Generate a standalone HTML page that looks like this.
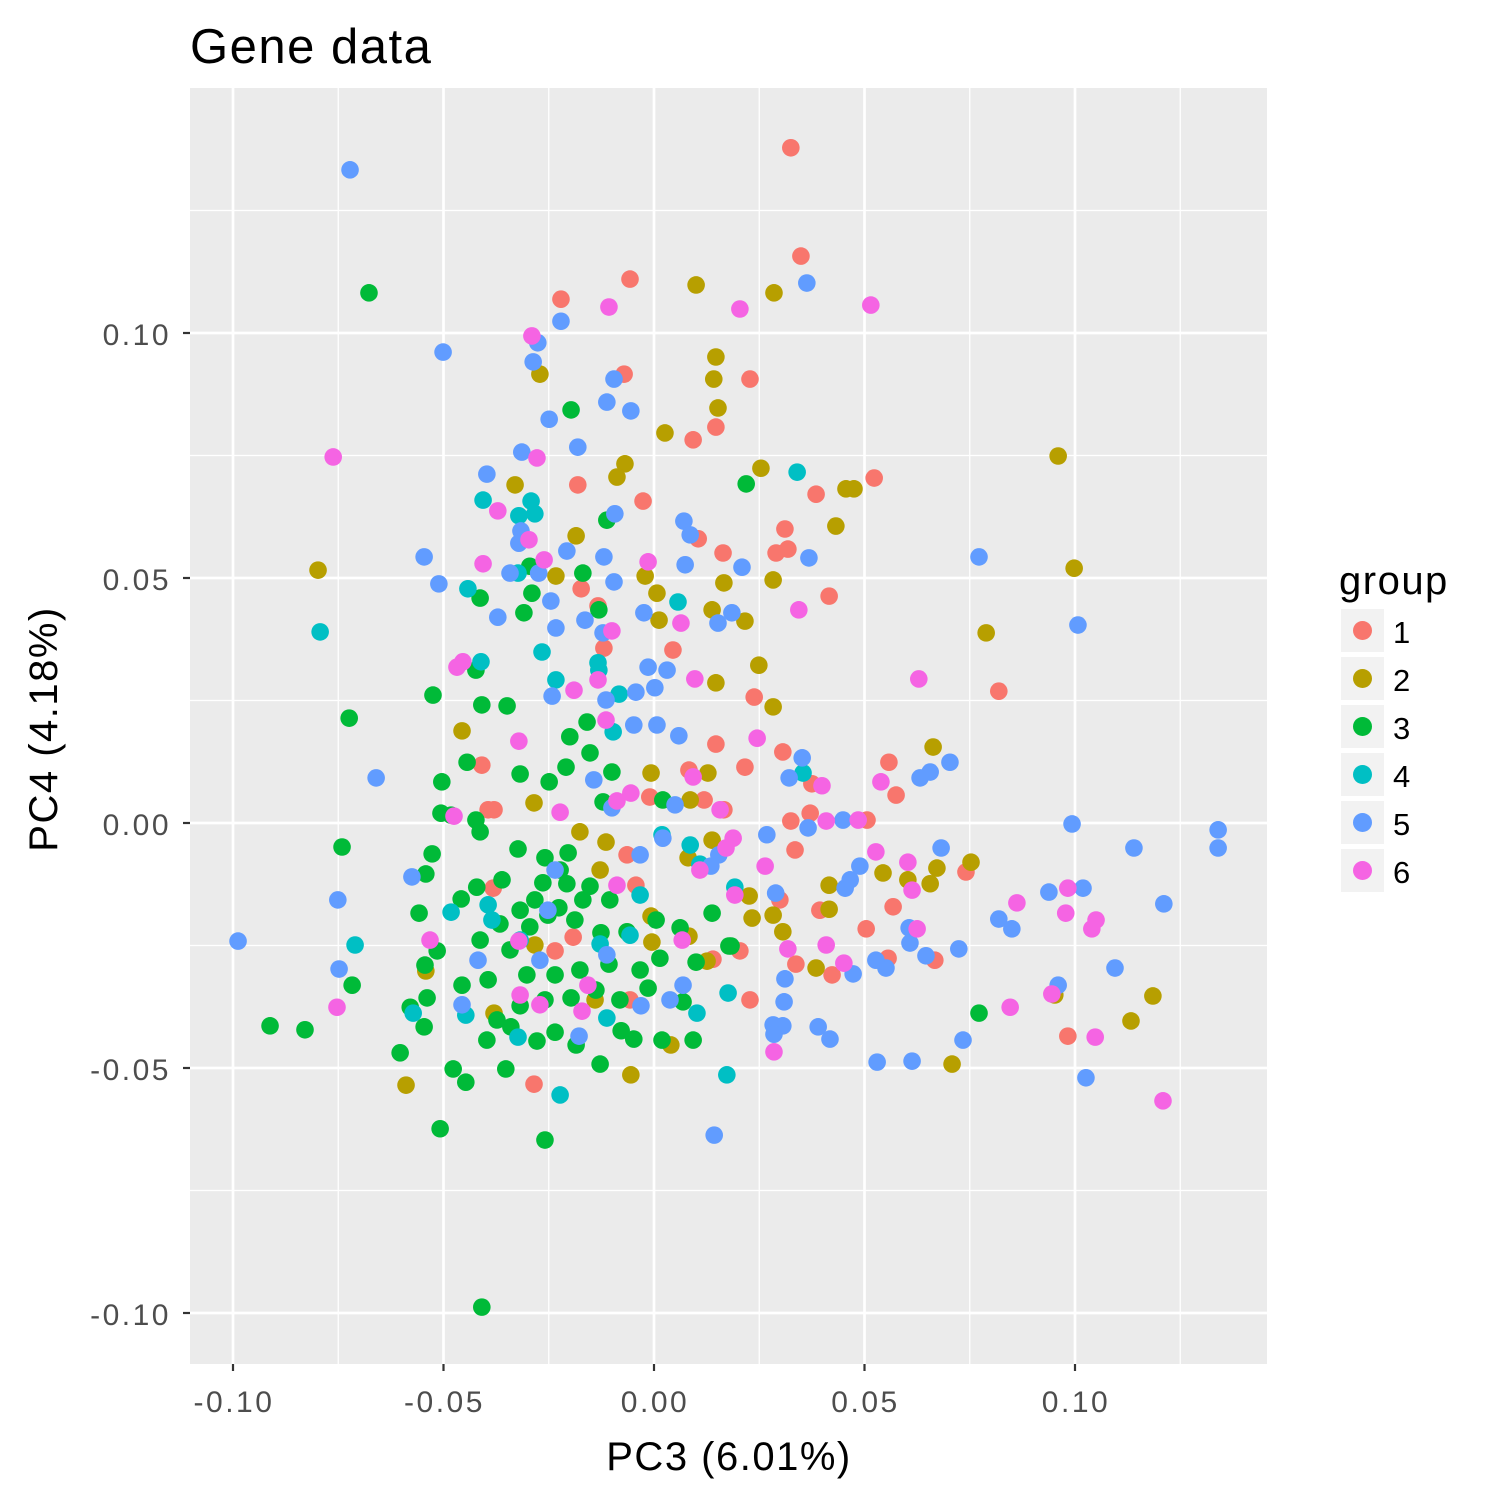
<!DOCTYPE html>
<html><head><meta charset="utf-8"><style>
html,body{margin:0;padding:0;background:#fff}
svg{display:block;font-family:"Liberation Sans",Arial,sans-serif}
</style></head><body>
<svg id="chart" width="1500" height="1500" viewBox="0 0 1500 1500" xmlns="http://www.w3.org/2000/svg">
<rect width="1500" height="1500" fill="#fff"/>
<text x="190" y="63" font-size="49" letter-spacing="1.5" fill="#000">Gene data</text>
<rect x="190" y="88" width="1077" height="1276" fill="#EBEBEB"/>
<g id="grid"></g>
<g id="points"></g>
<g id="axes"></g>
<text x="729" y="1470" font-size="40" letter-spacing="1.5" text-anchor="middle" fill="#000">PC3 (6.01%)</text>
<text transform="translate(57,729) rotate(-90)" font-size="40" letter-spacing="1.5" text-anchor="middle" fill="#000">PC4 (4.18%)</text>
<g id="legend">
<text x="1339" y="594" font-size="40" letter-spacing="1.5" fill="#000">group</text>
</g>
</svg>
<script>
const groups = ["1","2","3","4","5","6"];
const colors = ["#F8766D","#B79F00","#00BA38","#00BFC4","#619CFF","#F564E3"];
const xTicks = [-0.10,-0.05,0.00,0.05,0.10];
const yTicks = [-0.10,-0.05,0.00,0.05,0.10];
const xTickLabels = ["-0.10","-0.05","0.00","0.05","0.10"];
const yTickLabels = ["-0.10","-0.05","0.00","0.05","0.10"];
const g1 = [[.0325,.1378],[.0349,.1157],[-.0057,.111],[-.0221,.1069],[-.0071,.0916],[.0228,.0906],[.0093,.0782],[.0147,.0808],[-.0181,.069],[-.0026,.0657],[.0385,.0671],[.0523,.0704],[.0311,.06],[.0318,.0559],[.029,.0551],[.0105,.058],[.0164,.0551],[.0416,.0463],[-.0173,.0478],[-.0133,.0443],[-.0119,.0357],[.0045,.0353],[.0238,.0257],[-.0409,.0118],[-.0394,.0027],[-.038,.0027],[.0147,.0161],[.0216,.0114],[.0306,.0145],[.0375,.008],[.0558,.0124],[.0575,.0057],[.0819,.0269],[.0325,.0004],[.0335,-.0055],[.0371,.002],[.0506,.0006],[.0568,-.0171],[.0504,-.0216],[.0556,-.0276],[.0667,-.028],[.0741,-.01],[.0983,-.0435],[-.0285,-.0533],[-.0235,-.0261],[.0228,-.0361],[.0423,-.031],[.0337,-.0288],[.014,-.0278],[.0204,-.0261],[-.0043,-.0127],[-.0064,-.0065],[.0166,.0027],[.0119,.0047],[-.001,.0053],[.0083,.0108],[-.0382,-.0133],[-.0192,-.0233],[.0299,-.0157],[.0394,-.0178],[-.0057,-.0361]];
const g2 = [[.01,.1098],[.0285,.1082],[.0147,.0951],[.0142,.0906],[-.0271,.0916],[.0152,.0847],[.0026,.0796],[.0254,.0724],[-.0069,.0733],[-.0088,.0706],[-.033,.069],[.0456,.0682],[.0475,.0682],[.0432,.0606],[.096,.0749],[.0998,.052],[-.0798,.0516],[-.0185,.0586],[-.0233,.0504],[-.0021,.0504],[.0007,.0469],[.0012,.0414],[.0166,.049],[.0138,.0435],[.0216,.0412],[.0283,.0496],[.0789,.0388],[.0249,.0322],[.0147,.0286],[.0283,.0237],[-.0456,.0188],[.0663,.0155],[-.0007,.0102],[.0128,.0102],[-.0285,.0041],[-.0176,-.0018],[-.0114,-.0039],[.0086,.0047],[.0138,-.0035],[.0081,-.0071],[.0544,-.0102],[.0753,-.008],[.0672,-.0092],[.0656,-.0124],[.0603,-.0116],[.0226,-.0149],[.0283,-.0188],[.0306,-.0222],[.0416,-.0176],[.0416,-.0127],[.0233,-.0194],[-.0007,-.019],[-.0005,-.0243],[.0083,-.0231],[.0126,-.0282],[.0385,-.0296],[.1133,-.0404],[.1185,-.0353],[.0952,-.0351],[.0708,-.0492],[.004,-.0453],[-.0055,-.0514],[-.0589,-.0535],[-.0542,-.0302],[-.038,-.0388],[-.0283,-.0249],[-.0128,-.0096],[-.014,-.0361]];
const g3 = [[-.0677,.1082],[-.0197,.0843],[.0219,.0692],[-.0112,.0618],[-.0169,.051],[-.0295,.0524],[-.029,.0469],[-.0413,.0459],[-.0309,.0429],[-.0131,.0435],[-.0423,.0312],[-.0525,.0261],[-.0409,.0241],[-.0349,.0239],[-.0724,.0214],[-.0159,.0206],[-.02,.0176],[-.0152,.0143],[-.0209,.0114],[-.01,.0104],[-.0444,.0124],[-.0504,.0084],[-.0318,.01],[-.0249,.0084],[-.0423,.0006],[-.0413,-.0018],[-.0506,.002],[-.0482,.0016],[-.0741,-.0049],[-.0527,-.0063],[-.0542,-.0104],[-.0558,-.0184],[-.0458,-.0155],[-.0421,-.0131],[-.0361,-.0116],[-.0323,-.0053],[-.0259,-.0071],[-.0204,-.0061],[-.0264,-.0122],[-.0207,-.0124],[-.0152,-.0129],[-.0105,-.0157],[-.0169,-.0157],[-.0226,-.0173],[-.0318,-.0178],[-.0366,-.0206],[-.0295,-.0212],[-.0252,-.0188],[-.0188,-.0198],[-.0126,-.0224],[-.0064,-.0222],[.0005,-.0198],[.0062,-.0214],[.0138,-.0184],[.0178,-.0251],[.01,-.0284],[.0014,-.0276],[-.0033,-.03],[-.0107,-.0288],[-.0176,-.03],[-.0235,-.031],[-.0302,-.031],[-.0394,-.032],[-.0456,-.0331],[-.0515,-.0261],[-.0544,-.029],[-.0539,-.0357],[-.0579,-.0376],[-.0546,-.0416],[-.0603,-.0469],[-.0477,-.0502],[-.0447,-.0529],[-.0508,-.0624],[-.0352,-.0502],[-.034,-.0416],[-.0278,-.0445],[-.0235,-.0427],[-.0185,-.0453],[-.0128,-.0492],[-.0078,-.0424],[-.0048,-.0441],[.0019,-.0443],[.0069,-.0365],[-.0014,-.0337],[-.0081,-.0361],[-.0138,-.0341],[-.0197,-.0357],[-.0259,-.0361],[-.0318,-.0373],[-.0373,-.0402],[-.0397,-.0443],[-.0259,-.0647],[-.0409,-.0988],[-.0912,-.0414],[-.0829,-.0422],[-.0717,-.0331],[.0772,-.0388],[.0183,-.0251],[.0093,-.0443],[.0021,.0047],[-.0121,.0043],[-.0223,-.0096],[-.0283,-.0157],[-.0342,-.0259],[-.0413,-.0239]];
const g4 = [[.034,.0716],[-.0406,.0659],[-.0292,.0657],[-.0283,.0631],[-.0321,.0627],[-.0442,.0478],[-.0323,.051],[-.0266,.0349],[-.0411,.0329],[-.0133,.0327],[-.0131,.0312],[-.0233,.0292],[-.0083,.0263],[.0057,.0451],[-.0097,.0186],[.0354,.0102],[-.0793,.039],[-.071,-.0249],[-.0572,-.0388],[-.0482,-.0182],[-.0394,-.0167],[-.0385,-.0198],[-.0318,-.0239],[-.0128,-.0247],[-.0057,-.0229],[.0019,-.0024],[.0086,-.0045],[.0109,-.0084],[.0192,-.0131],[.0176,-.0347],[.0173,-.0514],[.0102,-.0388],[-.0112,-.0398],[-.0223,-.0555],[-.0323,-.0437],[-.0447,-.0392],[-.0033,-.0147]];
const g5 = [[-.0722,.1333],[.0363,.1102],[-.0221,.1024],[-.0276,.098],[-.0287,.0941],[-.0501,.0961],[-.0095,.0906],[-.0112,.0859],[-.0055,.0841],[-.0249,.0824],[-.0181,.0767],[-.0314,.0757],[-.0397,.0712],[-.0093,.0631],[.0071,.0616],[.0086,.0588],[-.0316,.0596],[-.0321,.0571],[-.0546,.0543],[-.0207,.0555],[-.0119,.0543],[.0074,.0527],[.0209,.0522],[.0368,.0541],[.0772,.0543],[-.0342,.051],[-.0274,.051],[-.0511,.0488],[-.0095,.0492],[-.0245,.0453],[-.0024,.0429],[.0185,.0429],[.0152,.0408],[-.0371,.042],[-.0233,.0398],[-.0164,.0414],[-.0121,.0388],[.1007,.0404],[-.0014,.0318],[.0031,.0312],[.0002,.0276],[-.0242,.0259],[-.0114,.0251],[-.0043,.0267],[-.0048,.02],[.0007,.02],[.0059,.0178],[-.066,.0092],[.0352,.0133],[.0321,.0092],[.0703,.0124],[.0656,.0104],[.0632,.0092],[.0993,-.0002],[.134,-.0014],[.134,-.0051],[.114,-.0051],[.0682,-.0051],[.0268,-.0024],[-.0575,-.011],[-.0751,-.0157],[-.0988,-.0241],[-.0748,-.0298],[.1019,-.0133],[.0938,-.0141],[.0819,-.0196],[.085,-.0216],[.1211,-.0165],[.0606,-.0214],[.0608,-.0245],[.0646,-.0271],[.0724,-.0257],[.0551,-.0296],[.0527,-.028],[.0473,-.0308],[.1095,-.0296],[.096,-.0331],[.0734,-.0443],[.053,-.0488],[.0613,-.0486],[.1026,-.052],[.0143,-.0637],[.0309,-.0365],[.0306,-.0414],[.0283,-.0412],[.0285,-.0431],[.039,-.0416],[.0418,-.0441],[.0311,-.0318],[.0289,-.0143],[.0454,-.0133],[.0466,-.0116],[.0489,-.0088],[.0449,.0006],[.0366,-.001],[.0154,-.0065],[.0135,-.0088],[.005,.0037],[.0021,-.0031],[-.0033,-.0065],[-.01,.0031],[-.0143,.0088],[-.0252,-.0178],[-.0235,-.0096],[-.0271,-.028],[-.0418,-.028],[-.0456,-.0371],[-.0178,-.0435],[-.0031,-.0373],[.0069,-.0331],[.0038,-.0361],[-.0112,-.0269]];
const g6 = [[-.0107,.1053],[.0204,.1049],[.0515,.1057],[-.029,.0994],[-.0762,.0747],[-.0278,.0745],[-.0371,.0637],[-.0297,.0578],[-.0261,.0537],[-.0406,.0529],[-.0014,.0533],[.0344,.0435],[.0064,.0408],[-.01,.0392],[-.0468,.0318],[-.0454,.0329],[-.019,.0271],[-.0133,.0292],[.0097,.0294],[.0629,.0294],[-.0114,.021],[-.0321,.0167],[.0245,.0173],[-.0475,.0014],[.0093,.0094],[-.0223,.0022],[-.0088,.0045],[-.0055,.0061],[.0157,.0027],[.0188,-.0031],[.0264,-.0088],[.0399,.0076],[.0409,.0004],[.0485,.0006],[.0527,-.0059],[.0539,.0084],[.0603,-.008],[.0613,-.0137],[.0983,-.0133],[.0862,-.0163],[.0978,-.0184],[.105,-.0198],[.104,-.0216],[.0625,-.0216],[.0409,-.0249],[.0318,-.0257],[.0451,-.0286],[.0945,-.0349],[.0846,-.0376],[.1048,-.0437],[.1209,-.0567],[.0285,-.0467],[-.0753,-.0376],[-.0532,-.0239],[-.0321,-.0241],[-.0157,-.0331],[-.0171,-.0384],[-.0271,-.0371],[.0067,-.0239],[-.0318,-.0351],[.0192,-.0147],[-.0088,-.0127],[.0171,-.0051],[.0109,-.0096]];
const seriesData = [g1,g2,g3,g4,g5,g6];

const NS="http://www.w3.org/2000/svg";
const PX0=190,PX1=1267,PY0=88,PY1=1364;
function xs(v){return 654+v*4210;}
function ys(v){return 823-v*4900;}
function mk(tag,attrs,parent){const e=document.createElementNS(NS,tag);for(const k in attrs)e.setAttribute(k,attrs[k]);parent.appendChild(e);return e;}
const grid=document.getElementById('grid'),pts=document.getElementById('points'),axes=document.getElementById('axes'),leg=document.getElementById('legend');
for(let i=0;i<xTicks.length-1;i++){const v=(xTicks[i]+xTicks[i+1])/2;const l=mk('line',{x1:xs(v),x2:xs(v),y1:PY0,y2:PY1,stroke:'#fff','stroke-width':1.3},grid);

}
[xTicks[xTicks.length-1]+0.025].forEach(v=>{const l=mk('line',{x1:xs(v),x2:xs(v),y1:PY0,y2:PY1,stroke:'#fff','stroke-width':1.3},grid);

});
const yMinor=[-0.125,-0.075,-0.025,0.025,0.075,0.125];
yMinor.forEach(v=>{const l=mk('line',{x1:PX0,x2:PX1,y1:ys(v),y2:ys(v),stroke:'#fff','stroke-width':1.3},grid);

});
xTicks.forEach((v,i)=>{const l=mk('line',{x1:xs(v),x2:xs(v),y1:PY0,y2:PY1,stroke:'#fff','stroke-width':2.7},grid);


const t=mk('line',{x1:xs(v),x2:xs(v),y1:PY1,y2:PY1+7,stroke:'#333','stroke-width':2.2},axes);


const tx=mk('text',{x:xs(v)+1,y:PY1+48,'font-size':30,'letter-spacing':2.5,'text-anchor':'middle',fill:'#4D4D4D'},axes);tx.textContent=xTickLabels[i];

});
yTicks.forEach((v,i)=>{const l=mk('line',{x1:PX0,x2:PX1,y1:ys(v),y2:ys(v),stroke:'#fff','stroke-width':2.7},grid);


const t=mk('line',{x1:PX0-7,x2:PX0,y1:ys(v),y2:ys(v),stroke:'#333','stroke-width':2.2},axes);


const tx=mk('text',{x:PX0-19,y:ys(v)+12,'font-size':30,'letter-spacing':2.5,'text-anchor':'end',fill:'#4D4D4D'},axes);tx.textContent=yTickLabels[i];

});
seriesData.forEach((arr,gi)=>{arr.forEach(p=>{const c=mk('circle',{cx:xs(p[0]),cy:ys(p[1]),r:8.8,fill:colors[gi]},pts);

});});
groups.forEach((g,i)=>{const y=609+i*48;
const r=mk('rect',{x:1341,y:y,width:43,height:43,fill:'#F2F2F2'},leg);


const c=mk('circle',{cx:1362.5,cy:y+21.5,r:9.5,fill:colors[i]},leg);


const t=mk('text',{x:1393,y:y+34,'font-size':31,fill:'#000'},leg);t.textContent=g;

});
</script>
</body></html>
